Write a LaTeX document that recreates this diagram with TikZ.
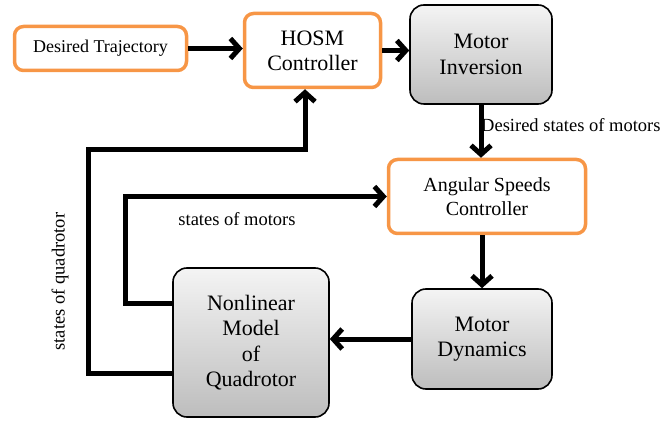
\documentclass[tikz,border=0pt]{standalone}
\usepackage{fontspec}
\setmainfont{Liberation Serif}
\definecolor{mOrange}{HTML}{F79646}
\definecolor{mGrayTop}{HTML}{F4F4F4}
\definecolor{mGrayBot}{HTML}{BDBDBD}
\usetikzlibrary{positioning,arrows.meta,calc}

\begin{document}
\begin{tikzpicture}[x=1pt, y=1pt,
  ctrlbox/.style={draw=mOrange, line width=3.5pt, fill=white, rounded corners=9pt, align=center, inner sep=0pt, font=\fontsize{22}{25}\selectfont},
  plantbox/.style={draw=black, line width=1.6pt, top color=mGrayTop, bottom color=mGrayBot, rounded corners=14pt, align=center, inner sep=0pt, font=\fontsize{22}{25.5}\selectfont},
  flow/.style={line width=5pt, -{Straight Barb[length=9pt,width=20pt]}},
  sig/.style={inner sep=0pt, font=\fontsize{18.5}{20}\selectfont}]
\useasboundingbox (0,0) rectangle (663,423);
% controller chain
\node[ctrlbox, minimum width=172pt, minimum height=44pt, font=\fontsize{18}{20}\selectfont] (traj) at (100.5,374.5) {Desired Trajectory};
\node[ctrlbox, minimum width=136pt, minimum height=74pt] (hosm) at (312.5,372.5) {HOSM\\Controller};
\node[plantbox, minimum width=142pt, minimum height=99pt] (minv) at (481,368.5) {Motor\\Inversion};
\node[ctrlbox, minimum width=197pt, minimum height=74pt, font=\fontsize{20}{24}\selectfont] (asc) at (487,226.5) {Angular Speeds\\Controller};
% plant
\node[plantbox, minimum width=140pt, minimum height=100pt] (mdyn) at (482,84) {Motor\\Dynamics};
\node[plantbox, minimum width=156pt, minimum height=149pt] (quad) at (251,80.5) {Nonlinear\\Model\\of\\Quadrotor};
% signal labels
\node[sig, anchor=west] (dsm) at (481,298) {Desired states of motors};
\node[sig] (som) at (237,204) {states of motors};
\node[sig, rotate=90] (soq) at (60,141.5) {states of quadrotor};
% feedback corners
\coordinate (outerBL) at (88,50);
\coordinate (outerTL) at (88,273);
\coordinate (outerTR) at (305,273);
\coordinate (innerBL) at (125,120);
\draw[flow] (traj.east) -- (traj.east -| hosm.west);
\draw[flow] (hosm.east) -- (hosm.east -| minv.west);
\draw[flow] (minv.south) -- (minv.south |- asc.north);
\draw[flow] (asc.south -| mdyn.north) -- (mdyn.north);
\draw[flow] (mdyn.west) -- (mdyn.west -| quad.east);
\draw[flow] (quad.west |- innerBL) -- (innerBL) |- (asc.west);
\draw[flow] (quad.west |- outerBL) -- (outerBL) -- (outerTL) -- (outerTR) -- (outerTR |- hosm.south);
\end{tikzpicture}
\end{document}
